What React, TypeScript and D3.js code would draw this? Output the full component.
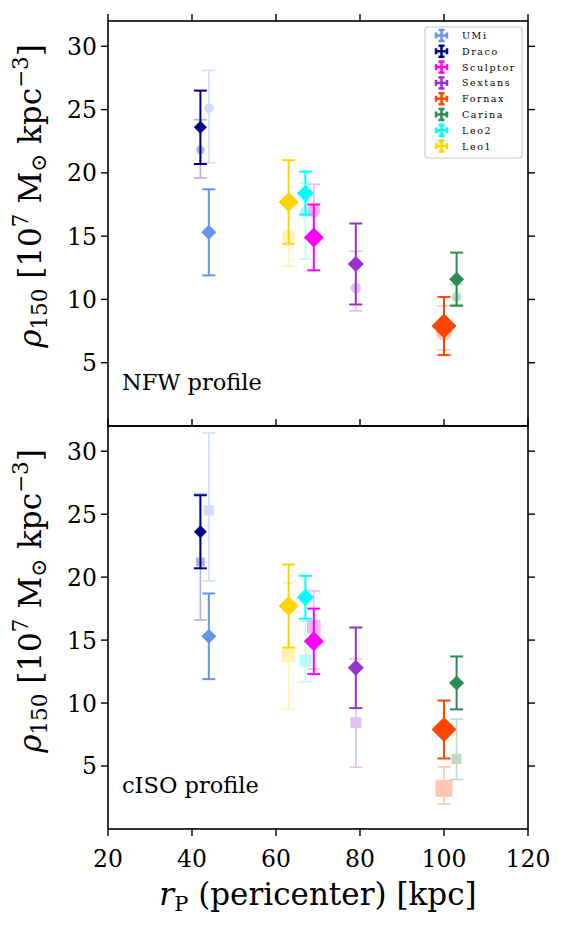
import React from "react";
import * as d3 from "d3";

// dwarf spheroidals, colours and pericentres
const galaxies = ["UMi", "Draco", "Sculptor", "Sextans", "Fornax", "Carina", "Leo2", "Leo1"];
const colors = ["#6495ED", "#00008B", "#FF00FF", "#9932CC", "#FF4500", "#2E8B57", "#00FFFF", "#FFD700"];
const pericenter = [44, 42, 69, 79, 100, 103, 67, 63];
const markerSize = [7.5, 6.5, 10, 8, 12.5, 7.5, 8.5, 10];

// measured rho_150 with lower / upper bounds (same in both panels)
const rhoObs = [15.3, 23.6, 14.9, 12.8, 7.9, 11.6, 18.4, 17.7];
const rhoObsLo = [11.9, 20.7, 12.3, 9.6, 5.6, 9.5, 16.7, 14.4];
const rhoObsHi = [18.7, 26.5, 17.5, 16.0, 10.2, 13.7, 20.1, 21.0];

// NFW fits
const rhoNfw = [25.1, 21.8, 17.0, 10.9, 7.4, 10.2, 16.9, 15.0];
const rhoNfwLo = [20.8, 19.6, 15.0, 9.1, 6.0, 9.6, 13.2, 12.6];
const rhoNfwHi = [28.1, 24.2, 19.1, 13.8, 9.5, 11.2, 19.2, 17.6];

// cISO fits
const rhoIso = [25.3, 21.2, 16.05, 8.45, 3.23, 5.56, 13.36, 13.8];
const rhoIsoLo = [19.7, 16.6, 12.7, 4.9, 1.98, 3.93, 11.7, 9.52];
const rhoIsoHi = [31.45, 26.6, 18.9, 13.5, 4.93, 8.73, 16.5, 19.55];

const xTicks = [20, 40, 60, 80, 100, 120];
const yTicks = [5, 10, 15, 20, 25, 30];

const FONT = "'DejaVu Serif', serif";

const left = 108;
const right = 528;
const x = d3.scaleLinear().domain([20, 120]).range([left, right]);

type Panel = {
  top: number;
  bottom: number;
  label: string;
  shape: "circle" | "square";
  fit: number[];
  fitLo: number[];
  fitHi: number[];
  showXLabels: boolean;
  topTicks: boolean;
  bottomTicks: boolean;
  yLabelCenter: number;
};

const panels: Panel[] = [
  { top: 21, bottom: 426, label: "NFW profile", shape: "circle", fit: rhoNfw, fitLo: rhoNfwLo, fitHi: rhoNfwHi, showXLabels: false, topTicks: true, bottomTicks: false, yLabelCenter: 196 },
  { top: 426, bottom: 829, label: "cISO profile", shape: "square", fit: rhoIso, fitLo: rhoIsoLo, fitHi: rhoIsoHi, showXLabels: true, topTicks: true, bottomTicks: true, yLabelCenter: 601 },
];

function ErrBar({ cx, y1, y2, color, width, cap }: any) {
  return (
    <g stroke={color} strokeWidth={width}>
      <line x1={cx} x2={cx} y1={y1} y2={y2} />
      <line x1={cx - cap} x2={cx + cap} y1={y1} y2={y1} />
      <line x1={cx - cap} x2={cx + cap} y1={y2} y2={y2} />
    </g>
  );
}

function PanelView({ p }: { p: Panel }) {
  const y = d3.scaleLinear().domain([0, 32]).range([p.bottom, p.top]);
  const tick = 7;
  return (
    <g>
      {/* model fits, drawn faded underneath */}
      {galaxies.map((g, i) => {
        const cx = x(pericenter[i]);
        const cy = y(p.fit[i]);
        const s = markerSize[i];
        return (
          <g key={"fit" + g} opacity={0.3}>
            <ErrBar cx={cx} y1={y(p.fitLo[i])} y2={y(p.fitHi[i])} color={colors[i]} width={1.6} cap={6.5} />
            {p.shape === "circle" ? (
              <circle cx={cx} cy={cy} r={s * 0.65} fill={colors[i]} />
            ) : (
              <rect x={cx - s * 0.68} y={cy - s * 0.68} width={s * 1.36} height={s * 1.36} fill={colors[i]} />
            )}
          </g>
        );
      })}
      {/* measured values */}
      {galaxies.map((g, i) => {
        const cx = x(pericenter[i]);
        const cy = y(rhoObs[i]);
        const s = markerSize[i];
        return (
          <g key={"obs" + g}>
            <ErrBar cx={cx} y1={y(rhoObsLo[i])} y2={y(rhoObsHi[i])} color={colors[i]} width={2} cap={6.5} />
            <path d={`M${cx},${cy - s}L${cx + s},${cy}L${cx},${cy + s}L${cx - s},${cy}Z`} fill={colors[i]} />
          </g>
        );
      })}
      {/* frame */}
      <rect x={left} y={p.top} width={right - left} height={p.bottom - p.top} fill="none" stroke="#000" strokeWidth={1.6} />
      {yTicks.map((t) => (
        <g key={"yt" + t}>
          <line x1={left - tick} x2={left} y1={y(t)} y2={y(t)} stroke="#000" strokeWidth={1.4} />
          <line x1={right} x2={right + tick} y1={y(t)} y2={y(t)} stroke="#000" strokeWidth={1.4} />
          <text x={left - 11} y={y(t)} dy="0.36em" textAnchor="end" fontFamily={FONT} fontSize={23.5}>
            {t}
          </text>
        </g>
      ))}
      {xTicks.map((t) => (
        <g key={"xt" + t}>
          {p.topTicks && <line x1={x(t)} x2={x(t)} y1={p.top - tick} y2={p.top} stroke="#000" strokeWidth={1.4} />}
          {p.bottomTicks && <line x1={x(t)} x2={x(t)} y1={p.bottom} y2={p.bottom + tick} stroke="#000" strokeWidth={1.4} />}
          {p.showXLabels && (
            <text x={x(t)} y={p.bottom + 38} textAnchor="middle" fontFamily={FONT} fontSize={23.5}>
              {t}
            </text>
          )}
        </g>
      ))}
      <text x={122} y={p.bottom - 36} fontFamily={FONT} fontSize={22.5}>
        {p.label}
      </text>
      <text transform={`translate(41,${p.yLabelCenter}) rotate(-90)`} textAnchor="middle" fontFamily={FONT} fontSize={31}>
        <tspan fontStyle="italic">ρ</tspan>
        <tspan fontSize={21.5} dy={6}>150</tspan>
        <tspan dy={-6}> [10</tspan>
        <tspan fontSize={21.5} dy={-13}>7</tspan>
        <tspan dy={13}> M</tspan>
        <tspan fontSize={21.5} dy={5}>⊙</tspan>
        <tspan dy={-5}> kpc</tspan>
        <tspan fontSize={21.5} dy={-13}>−3</tspan>
        <tspan dy={13}>]</tspan>
      </text>
    </g>
  );
}

function Legend() {
  const x0 = 425;
  const y0 = 27;
  const rowH = 15.8;
  return (
    <g>
      <rect x={x0} y={y0} width={97} height={131} rx={3} fill="#fff" fillOpacity={0.8} stroke="#ccc" strokeWidth={1.2} />
      {galaxies.map((g, i) => {
        const cy = y0 + 8.5 + i * rowH;
        const cx = 441.5;
        const a = 5.5;
        const c = 3;
        return (
          <g key={"lg" + g}>
            <g stroke={colors[i]} strokeWidth={2.5}>
              <line x1={cx - a} x2={cx + a} y1={cy} y2={cy} />
              <line x1={cx} x2={cx} y1={cy - a} y2={cy + a} />
              <line x1={cx - a} x2={cx - a} y1={cy - c} y2={cy + c} />
              <line x1={cx + a} x2={cx + a} y1={cy - c} y2={cy + c} />
              <line x1={cx - c} x2={cx + c} y1={cy - a} y2={cy - a} />
              <line x1={cx - c} x2={cx + c} y1={cy + a} y2={cy + a} />
            </g>
            <text x={462} y={cy} dy="0.36em" fontFamily={FONT} fontSize={9.5} letterSpacing={1.6}>
              {g}
            </text>
          </g>
        );
      })}
    </g>
  );
}

export default function App() {
  return (
    <svg width={566} height={934} style={{ position: "absolute", left: 0, top: 0, background: "#fff" }}>
      {panels.map((p) => (
        <PanelView key={p.label} p={p} />
      ))}
      <Legend />
      <text x={(left + right) / 2} y={905} textAnchor="middle" fontFamily={FONT} fontSize={31}>
        <tspan fontStyle="italic">r</tspan>
        <tspan fontSize={21} dy={6}>P</tspan>
        <tspan dy={-6}> (pericenter) [kpc]</tspan>
      </text>
    </svg>
  );
}
